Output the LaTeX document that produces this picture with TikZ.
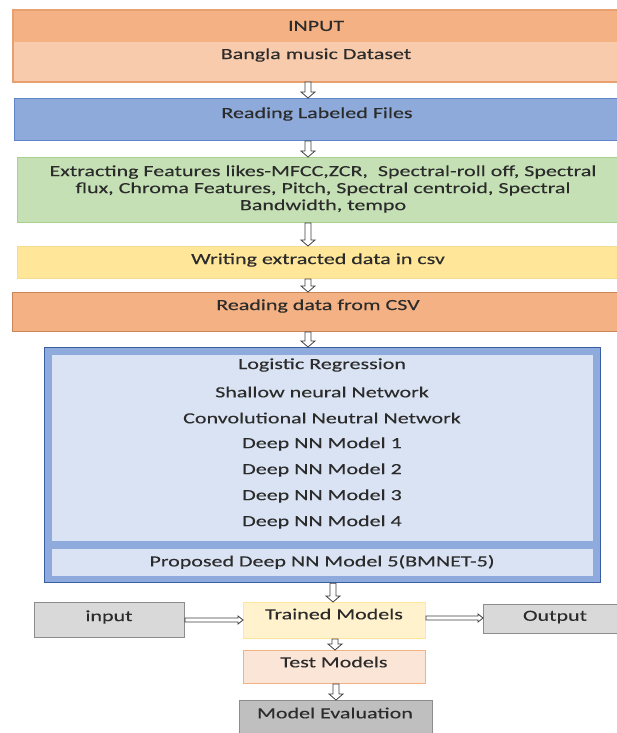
\documentclass[tikz,border=0pt]{standalone}
\usepackage{fontspec}
\setmainfont{Carlito}[FakeStretch=1.42,FakeBold=0.2]
\usetikzlibrary{calc}
\definecolor{inTop}{HTML}{F4B183}
\definecolor{inBot}{HTML}{F8CBAD}
\definecolor{inEdge}{HTML}{E8A070}
\definecolor{rlFill}{HTML}{8EAADB}
\definecolor{rlEdge}{HTML}{5F84C8}
\definecolor{grFill}{HTML}{C5E0B4}
\definecolor{grEdge}{HTML}{A9D18E}
\definecolor{yeFill}{HTML}{FFE699}
\definecolor{yeEdge}{HTML}{F5DC90}
\definecolor{csFill}{HTML}{F4B183}
\definecolor{csEdge}{HTML}{C8865A}
\definecolor{frFill}{HTML}{8FAADC}
\definecolor{frEdge}{HTML}{3A5FA0}
\definecolor{pnFill}{HTML}{DAE3F3}
\definecolor{trFill}{HTML}{FFF2CC}
\definecolor{trEdge}{HTML}{FFE699}
\definecolor{teFill}{HTML}{FBE5D6}
\definecolor{teEdge}{HTML}{F4B183}
\definecolor{gyFill}{HTML}{D9D9D9}
\definecolor{gyEdge}{HTML}{8C8C8C}
\definecolor{meFill}{HTML}{BFBFBF}
\definecolor{txt}{HTML}{2B2B2B}
\definecolor{arr}{HTML}{404040}
\tikzset{
  box/.style={rectangle, inner sep=0pt, line width=1pt, font=\fontsize{15.5}{17}\selectfont, text=txt, align=center},
  lbl/.style={inner sep=0pt, font=\fontsize{15.5}{17}\selectfont, text=txt},
  harr/.style={draw=arr, fill=white, line width=0.8pt, line join=miter},
}
% vertical hollow arrow at x=#1 from #2 down to #3
\newcommand\varr[3]{\draw[harr] let \p1=(#2), \p2=(#3) in
  (#1pt-3pt,\y1) -- (#1pt+3pt,\y1) -- (#1pt+3pt,\y2+6pt) -- (#1pt+7pt,\y2+6pt) -- (#1pt,\y2)
  -- (#1pt-7pt,\y2+6pt) -- (#1pt-3pt,\y2+6pt) -- cycle;}
% horizontal hollow arrow at y=#1 from #2 to #3
\newcommand\harrw[3]{\draw[harr] let \p1=(#2), \p2=(#3) in
  (\x1,-#1pt+2pt) -- (\x2-5pt,-#1pt+2pt) -- (\x2-5pt,-#1pt+4pt) -- (\x2,-#1pt) -- (\x2-5pt,-#1pt-4pt)
  -- (\x2-5pt,-#1pt-2pt) -- (\x1,-#1pt-2pt) -- cycle;}
\begin{document}
\begin{tikzpicture}[x=1pt,y=-1pt]
\useasboundingbox (0,0) rectangle (617,733);
\fill[white] (0,0) rectangle (617,733);
% INPUT
\node[box, fill=inTop, minimum width=608pt, minimum height=32pt, anchor=north west] (inTop) at (13,10) {};
\node[lbl] (inTopTxt) at (316,26) {INPUT};
\node[box, fill=inBot, minimum width=608pt, minimum height=39pt, anchor=north west] (inBot) at (13,42) {};
\node[lbl] (inBotTxt) at (316,55) {Bangla music Dataset};
\draw[inEdge, line width=1.2pt] (inTop.north west) rectangle (inBot.south east);
% Reading labeled
\node[box, fill=rlFill, draw=rlEdge, minimum width=607pt, minimum height=42pt, anchor=north west] (rl) at (14,98) {};
\node[lbl] (rlTxt) at (317,114) {Reading Labeled Files};
% Green
\node[box, fill=grFill, draw=grEdge, minimum width=604pt, minimum height=65pt, anchor=north west] (gr) at (17,157) {};
\node[lbl, align=center] (grTxt) at (323,189) {Extracting Features likes-MFCC,ZCR,\ \ Spectral-roll off, Spectral\\flux, Chroma Features, Pitch, Spectral centroid, Spectral\\Bandwidth, tempo};
% Yellow
\node[box, fill=yeFill, draw=yeEdge, minimum width=604pt, minimum height=32pt, anchor=north west] (ye) at (17,246) {};
\node[lbl] (yeTxt) at (318,260) {Writing extracted data in csv};
% CSV
\node[box, fill=csFill, draw=csEdge, minimum width=609pt, minimum height=39pt, anchor=north west] (cs) at (12,292) {};
\node[lbl] (csTxt) at (318,306) {Reading data from CSV};
% Big frame
\node[box, fill=frFill, draw=frEdge, line width=1.2pt, minimum width=556pt, minimum height=235pt, anchor=north west] (fr) at (44,347) {};
\node[box, fill=pnFill, line width=0pt, minimum width=541pt, minimum height=186pt, anchor=north west] (pn) at (52,355) {};
\node[box, fill=pnFill, line width=0pt, minimum width=541pt, minimum height=27pt, anchor=north west] (pb) at (52,549) {};
\node[lbl] (m1) at (322,365) {Logistic Regression};
\node[lbl] (m2) at (322,392) {Shallow neural Network};
\node[lbl] (m3) at (322,418) {Convolutional Neutral Network};
\node[lbl] (m4) at (322,444) {Deep NN Model 1};
\node[lbl] (m5) at (322,470) {Deep NN Model 2};
\node[lbl] (m6) at (322,496) {Deep NN Model 3};
\node[lbl] (m7) at (322,522) {Deep NN Model 4};
\node[lbl] (m8) at (322,562) {Proposed Deep NN Model 5(BMNET-5)};
% bottom row
\node[box, fill=gyFill, draw=gyEdge, minimum width=150pt, minimum height=35pt, anchor=north west] (inp) at (34,602) {};
\node[lbl] (inpTxt) at (109,617) {input};
\node[box, fill=trFill, draw=trEdge, minimum width=182pt, minimum height=36pt, anchor=north west] (tr) at (243,602) {};
\node[lbl] (trTxt) at (334,614) {Trained Models};
\node[box, fill=gyFill, draw=gyEdge, minimum width=140pt, minimum height=29pt, anchor=north west] (out) at (483,604) {};
\node[lbl] (outTxt) at (555,617) {Output};
\node[box, fill=teFill, draw=teEdge, minimum width=182pt, minimum height=33pt, anchor=north west] (te) at (243,650) {};
\node[lbl] (teTxt) at (334,662) {Test Models};
\node[box, fill=meFill, draw=gyEdge, minimum width=193pt, minimum height=40pt, anchor=north west] (me) at (239,700) {};
\node[lbl] (meTxt) at (335,713) {Model Evaluation};
% arrows
\varr{308}{inBot.south}{rl.north}
\varr{308}{rl.south}{gr.north}
\varr{308}{gr.south}{ye.north}
\varr{308}{ye.south}{cs.north}
\varr{308}{cs.south}{fr.north}
\varr{333}{fr.south}{tr.north}
\varr{335}{tr.south}{te.north}
\varr{336}{te.south}{me.north}
\harrw{620}{inp.east}{tr.west}
\harrw{618}{tr.east}{out.west}
\end{tikzpicture}
\end{document}
